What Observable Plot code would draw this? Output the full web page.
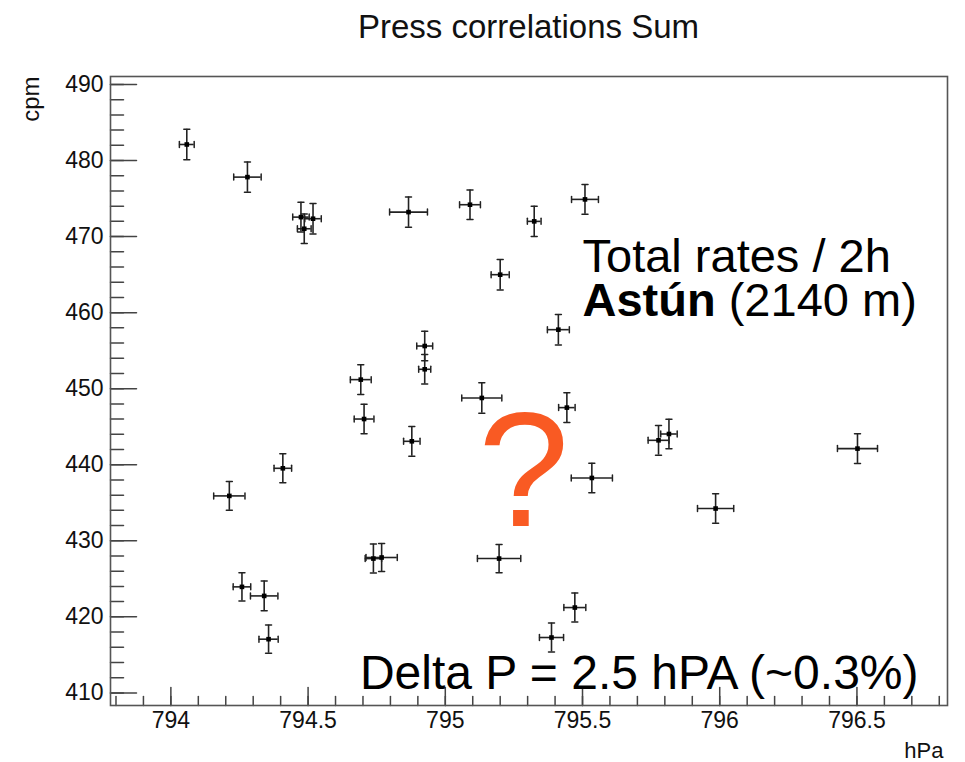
<!DOCTYPE html>
<html>
<head>
<meta charset="utf-8">
<script src="https://cdn.jsdelivr.net/npm/d3@7"></script>
<script src="https://cdn.jsdelivr.net/npm/@observablehq/plot@0.6"></script>
<style>
  body { margin: 0; background: white; font-family: "Liberation Sans", Arial, sans-serif; }
  #title { height: 45px; padding-top: 3px; line-height: 48px; font-size: 33px; color: #111;
           box-sizing: content-box; padding-left: 110px; padding-right: 18px; text-align: center; width: 837px; }
</style>
</head>
<body>
<div id="title">Press correlations Sum</div>
<div id="chart"></div>
<script>
// ---- data ----
const pressure = [794.058, 794.279, 794.474, 794.518, 794.486, 794.866, 795.090, 795.324, 795.509, 795.200,
                  795.412, 794.925, 794.925, 794.692, 794.704, 794.878, 795.133, 795.443, 795.534, 794.408,
                  794.213, 794.738, 794.768, 794.259, 794.340, 794.356, 795.196, 795.472, 795.387, 795.777,
                  795.815, 796.502, 795.985];
const rate = [482.11, 477.82, 472.56, 472.35, 471.03, 473.22, 474.19, 472.00, 474.89, 464.99,
              457.76, 455.61, 452.55, 451.19, 446.01, 443.08, 448.78, 447.51, 438.26, 439.53,
              435.90, 427.66, 427.80, 423.94, 422.75, 417.06, 427.66, 421.22, 417.28, 443.21,
              444.04, 442.12, 434.24];
const pressureErr = [0.027, 0.050, 0.030, 0.030, 0.025, 0.069, 0.038, 0.025, 0.049, 0.033,
                     0.040, 0.029, 0.022, 0.038, 0.036, 0.030, 0.073, 0.030, 0.075, 0.032,
                     0.057, 0.030, 0.057, 0.032, 0.050, 0.035, 0.079, 0.040, 0.044, 0.038,
                     0.030, 0.073, 0.066];
const rateErr = [2.0, 2.0, 1.95, 2.0, 1.95, 2.0, 1.95, 2.0, 1.95, 2.0,
                 2.0, 1.95, 1.95, 1.95, 1.95, 1.95, 2.0, 1.95, 1.95, 1.9,
                 1.9, 1.9, 1.85, 1.85, 1.95, 1.85, 1.85, 1.9, 1.9, 1.95,
                 1.95, 1.95, 1.95];

const xMajorTicks = [794, 794.5, 795, 795.5, 796, 796.5];
const xMinorTicks = d3.range(0, 31).map(i => +(793.8 + i * 0.1).toFixed(1));
const yMajorTicks = d3.range(410, 491, 10);
const yMinorTicks = d3.range(410, 491, 2);

const xDomain = [793.78, 796.83];
const yDomain = [408.34, 491.05];

const noteLines = ["Total rates / 2h", "Astún (2140 m)"];
const boldWord = "Astún";
const deltaNote = "Delta P = 2.5 hPA (~0.3%)";

const points = pressure.map((p, i) => ({x: p, y: rate[i], xe: pressureErr[i], ye: rateErr[i]}));

const lineShape = { draw(context, l) { context.moveTo(0, 0); context.lineTo(0, -l); } };
const barStroke = "#222";
const tickStroke = "#444";

const chart = Plot.plot({
  width: 965,
  height: 714,
  marginTop: 28,
  marginBottom: 57,
  marginLeft: 110,
  marginRight: 18,
  style: { fontFamily: "Liberation Sans, Arial, sans-serif", background: "white", color: "#111" },
  x: { domain: xDomain },
  y: { domain: yDomain },
  marks: [
    Plot.axisX({ ticks: xMajorTicks, tickSize: 0, tickPadding: 6, fontSize: 23, label: null, tickFormat: d => String(d) }),
    Plot.axisY({ ticks: yMajorTicks, tickSize: 0, tickPadding: 7, fontSize: 23, label: null }),
    Plot.vector(xMinorTicks, { x: d => d, frameAnchor: "bottom", length: 9, anchor: "start", shape: lineShape, stroke: tickStroke, strokeWidth: 1.5 }),
    Plot.vector(xMajorTicks, { x: d => d, frameAnchor: "bottom", length: 18, anchor: "start", shape: lineShape, stroke: tickStroke, strokeWidth: 1.5 }),
    Plot.vector(yMinorTicks, { y: d => d, frameAnchor: "left", length: 13, rotate: 90, anchor: "start", shape: lineShape, stroke: tickStroke, strokeWidth: 1.5 }),
    Plot.vector(yMajorTicks, { y: d => d, frameAnchor: "left", length: 26, rotate: 90, anchor: "start", shape: lineShape, stroke: tickStroke, strokeWidth: 1.5 }),
    Plot.frame({ stroke: "#555", strokeWidth: 1.6 }),
    Plot.ruleY(points, { y: "y", x1: d => d.x - d.xe, x2: d => d.x + d.xe, stroke: barStroke, strokeWidth: 1.6 }),
    Plot.ruleX(points, { x: "x", y1: d => d.y - d.ye, y2: d => d.y + d.ye, stroke: barStroke, strokeWidth: 1.6 }),
    Plot.vector(points, { x: d => d.x - d.xe, y: "y", length: 6, anchor: "middle", shape: lineShape, stroke: barStroke, strokeWidth: 1.5 }),
    Plot.vector(points, { x: d => d.x + d.xe, y: "y", length: 6, anchor: "middle", shape: lineShape, stroke: barStroke, strokeWidth: 1.5 }),
    Plot.vector(points, { x: "x", y: d => d.y - d.ye, length: 6, rotate: 90, anchor: "middle", shape: lineShape, stroke: barStroke, strokeWidth: 1.5 }),
    Plot.vector(points, { x: "x", y: d => d.y + d.ye, length: 6, rotate: 90, anchor: "middle", shape: lineShape, stroke: barStroke, strokeWidth: 1.5 }),
    Plot.dot(points, { x: "x", y: "y", r: 2.6, fill: "black", symbol: "square" }),
    Plot.text(["cpm"], { text: d => d, frameAnchor: "top-left", rotate: -90, textAnchor: "end", lineAnchor: "bottom", dx: -72, dy: 0, fontSize: 24, fill: "#111" }),
    Plot.text(["hPa"], { text: d => d, frameAnchor: "bottom-right", textAnchor: "end", lineAnchor: "bottom", dx: -4, dy: 52, fontSize: 22, fill: "#111" }),
    Plot.text([noteLines.join("\n")], { text: d => d, frameAnchor: "top-left", textAnchor: "start", lineAnchor: "top", lineHeight: 44 / 47, dx: 472, dy: 164, fontSize: 47, fill: "black", className: "note" }),
    Plot.text([deltaNote], { text: d => d, frameAnchor: "bottom-right", textAnchor: "end", lineAnchor: "bottom", dx: -29, dy: -17, fontSize: 48, fill: "black" }),
    Plot.text(["?"], { text: d => d, frameAnchor: "top-left", textAnchor: "middle", lineAnchor: "bottom", dx: 413, dy: 449, fontSize: 164, fill: "#f95a23" })
  ]
});

// make the first word of the second note line bold (single text element, mixed weight)
chart.querySelectorAll(".note tspan").forEach(ts => {
  const t = ts.textContent;
  if (t.startsWith(boldWord)) {
    ts.textContent = "";
    const b = document.createElementNS("http://www.w3.org/2000/svg", "tspan");
    b.setAttribute("font-weight", "bold");
    b.textContent = boldWord;
    ts.appendChild(b);
    ts.appendChild(document.createTextNode(t.slice(boldWord.length)));
  }
});

document.getElementById("chart").appendChild(chart);
</script>
</body>
</html>
